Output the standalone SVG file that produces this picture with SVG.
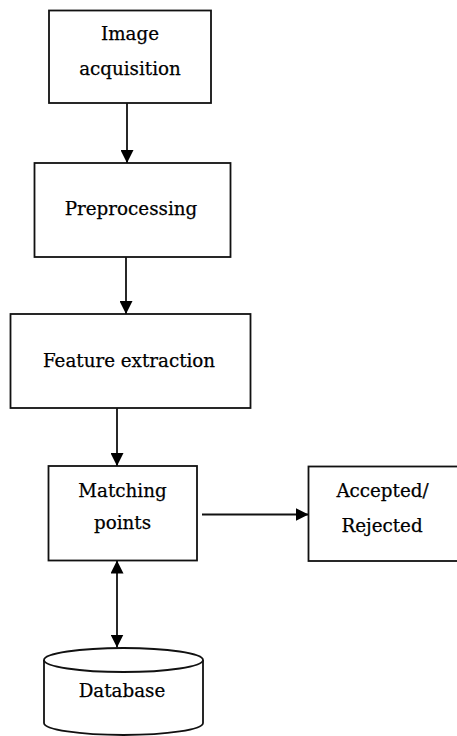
<svg xmlns="http://www.w3.org/2000/svg" width="457" height="736" viewBox="0 0 457 736">
<defs>
<style>
.box{fill:#fff;stroke:#111;stroke-width:1.8}
.lbl{font-family:"DejaVu Serif","Liberation Serif",serif;font-size:18.3px;fill:#000;stroke:#000;stroke-width:0.25;text-anchor:middle}
.con{stroke:#111;stroke-width:1.8;fill:none}
</style>
<marker id="ah" viewBox="0 0 13 13" refX="13" refY="6.5" markerWidth="13" markerHeight="13" markerUnits="userSpaceOnUse" orient="auto-start-reverse">
<path d="M0,0 L13,6.5 L0,13 Z" fill="#000"/>
</marker>
</defs>
<rect width="457" height="736" fill="#fff"/>
<g id="n1">
<rect class="box" x="49" y="10.5" width="162" height="92.5"/>
<text class="lbl" x="130" y="40">Image</text>
<text class="lbl" x="130" y="75">acquisition</text>
</g>
<g id="n2">
<rect class="box" x="34.5" y="163" width="196" height="94"/>
<text class="lbl" x="131" y="215">Preprocessing</text>
</g>
<g id="n3">
<rect class="box" x="10.5" y="314" width="240" height="94"/>
<text class="lbl" x="129" y="366.5">Feature extraction</text>
</g>
<g id="n4">
<rect class="box" x="48.5" y="466" width="148.5" height="94.5"/>
<text class="lbl" x="122.5" y="496.5">Matching</text>
<text class="lbl" x="122.5" y="528.5">points</text>
</g>
<g id="n5">
<rect class="box" x="308.5" y="466.5" width="160" height="94.5"/>
<text class="lbl" x="382.5" y="496.5">Accepted/</text>
<text class="lbl" x="382" y="531.5">Rejected</text>
</g>
<g id="n6">
<path class="box" d="M44,660 L44,723 A79.5,12 0 0 0 203,723 L203,660"/>
<ellipse class="box" cx="123.5" cy="660" rx="79.5" ry="12"/>
<text class="lbl" x="122" y="696.5">Database</text>
</g>
<g id="connectors">
<line class="con" x1="127" y1="103" x2="127" y2="163" marker-end="url(#ah)"/>
<line class="con" x1="126" y1="257" x2="126" y2="314" marker-end="url(#ah)"/>
<line class="con" x1="117" y1="408" x2="117" y2="466" marker-end="url(#ah)"/>
<line class="con" x1="202" y1="514.5" x2="308.5" y2="514.5" marker-end="url(#ah)"/>
<line class="con" x1="117" y1="560.5" x2="117" y2="647.5" marker-start="url(#ah)" marker-end="url(#ah)"/>
</g>
</svg>
